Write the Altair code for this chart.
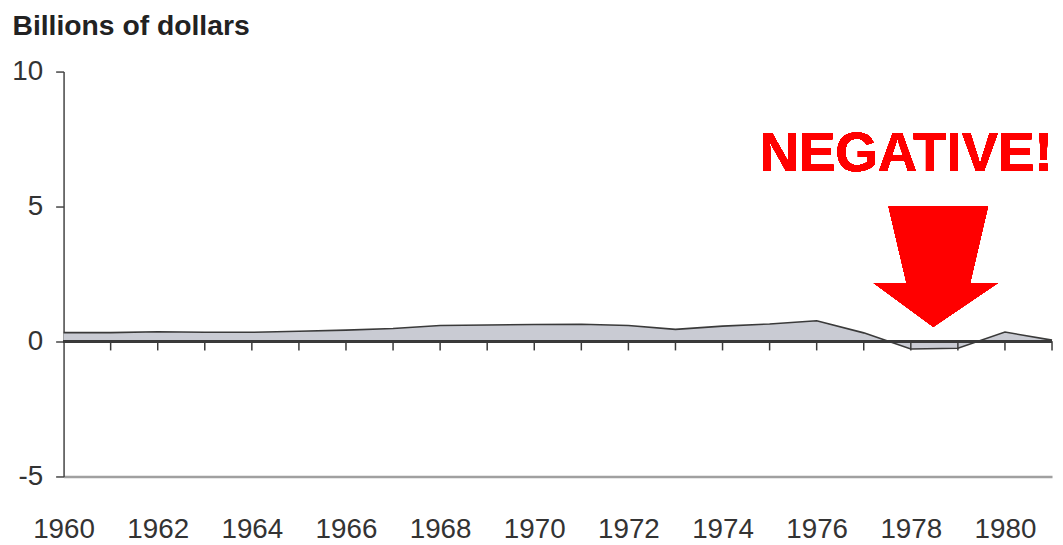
import altair as alt
import pandas as pd

years = list(range(1960, 1982))
values = [0.33, 0.33, 0.36, 0.34, 0.34, 0.38, 0.42, 0.48, 0.59, 0.61, 0.63,
          0.64, 0.59, 0.45, 0.57, 0.65, 0.77, 0.32, -0.28, -0.25, 0.35, 0.05]
tick_years = list(range(1961, 1982))
label_years = list(range(1960, 1981, 2))
y_ticks = [-5, 0, 5, 10]

FONT = "Liberation Sans"

df = pd.DataFrame({"year": years, "value": values})
ticks_df = pd.DataFrame({"year": tick_years})

xscale = alt.Scale(domain=[1960, 1981], nice=False, zero=False)
yscale = alt.Scale(domain=[-5, 10], nice=False)

area = alt.Chart(df).mark_area(
    color="#c9cbd3", opacity=1,
    line={"color": "#3a3a3a", "strokeWidth": 1.6},
).encode(
    x=alt.X("year:Q", scale=xscale, axis=alt.Axis(
        values=label_years, format="d", title=None,
        labelFont=FONT, labelFontSize=28, labelColor="#333",
        labelPadding=40, ticks=False, tickSize=0,
        domainColor="#a0a0a0", domainWidth=2.5, grid=False,
        labelFlush=False, labelOverlap=False)),
    y=alt.Y("value:Q", scale=yscale, axis=alt.Axis(
        values=y_ticks, title="Billions of dollars", titleAngle=0,
        titleAlign="left", titleBaseline="alphabetic", titleX=-52, titleY=-37,
        titleFont=FONT, titleFontSize=28.5, titleFontWeight="bold", titleColor="#222",
        labelExpr="'' + datum.value",
        labelFont=FONT, labelFontSize=28, labelColor="#333", labelPadding=13,
        tickSize=8, tickColor="#444", tickWidth=1.5,
        domainColor="#444", domainWidth=1.5, grid=False)),
    y2=alt.datum(0),
)

zero_rule = alt.Chart(df).mark_rule(color="#3a3a3a", strokeWidth=1.6).encode(
    y=alt.datum(0)
)

year_ticks = alt.Chart(ticks_df).mark_tick(
    orient="vertical", size=9, thickness=1.5, color="#3a3a3a", yOffset=4.5, opacity=1
).encode(
    x=alt.X("year:Q"),
    y=alt.datum(0),
)

arrow_path = ("M -0.777 -1 L 0.876 -1 L 0.579 0.273 L 1.041 0.273 "
              "L -0.033 1 L -1.025 0.273 L -0.479 0.273 Z")
arrow = alt.Chart(df).mark_point(
    shape=arrow_path, size=14641, filled=True, color="#ff0000",
    opacity=1, strokeWidth=0,
).encode(
    x=alt.datum(1978.52),
    y=alt.datum(2.77),
)

label = alt.Chart(df).mark_text(
    text="NEGATIVE!", font=FONT, fontSize=55, fontWeight="bold",
    color="#ff0000", align="center", baseline="alphabetic",
).encode(
    x=alt.datum(1977.9),
    y=alt.datum(6.32),
)

chart = alt.layer(area, zero_rule, year_ticks, arrow, label).properties(
    width=996, height=408,
    padding={"left": 56, "top": 62, "right": 3, "bottom": 67},
    autosize=alt.AutoSizeParams(type="none"),
    background="white",
).configure_view(stroke=None)

chart.save("out.html", embed_options={"renderer": "svg", "actions": False})
